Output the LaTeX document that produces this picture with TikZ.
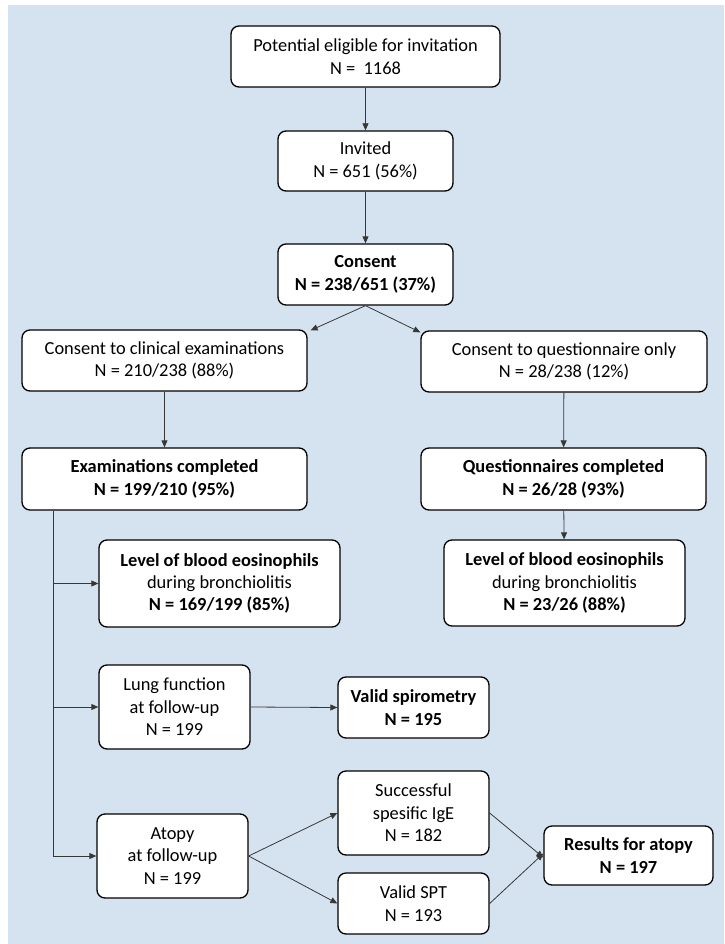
\documentclass[tikz,border=0pt]{standalone}
\usepackage{fontspec}
\setmainfont{Carlito}
\usetikzlibrary{arrows.meta}
\definecolor{bgblue}{RGB}{213,227,240}
\definecolor{linegray}{RGB}{55,55,55}
\begin{document}
\begin{tikzpicture}[x=1pt,y=-1pt,
  box/.style={draw=black, line width=1.3pt, fill=white, rounded corners=8pt,
    align=center, inner sep=0pt, font=\fontsize{18.4}{22.4}\selectfont},
  conn/.style={draw=linegray, line width=0.8pt, -{Triangle[length=7pt,width=6pt]}},
  plain/.style={draw=linegray, line width=0.8pt}
]
\useasboundingbox (0,0) rectangle (724,944);
\fill[bgblue] (8,5) rectangle (724,944);

\node[box, minimum width=269pt, minimum height=61pt] (pot) at (365.5,56.5)
  {Potential eligible for invitation\\N =\ \ 1168};
\node[box, minimum width=175pt, minimum height=60pt] (inv) at (365.5,161)
  {Invited\\N = 651 (56\%)};
\node[box, minimum width=175pt, minimum height=61pt] (cons) at (365.5,274.5)
  {\textbf{Consent}\\\textbf{N = 238/651 (37\%)}};
\node[box, minimum width=285pt, minimum height=61pt] (clin) at (164.5,360.5)
  {Consent to clinical examinations\\N = 210/238 (88\%)};
\node[box, minimum width=286pt, minimum height=61pt] (quest) at (564,361.5)
  {Consent to questionnaire only\\N = 28/238 (12\%)};
\node[box, minimum width=285pt, minimum height=62pt] (exam) at (164.5,479)
  {\textbf{Examinations completed}\\\textbf{N = 199/210 (95\%)}};
\node[box, minimum width=285pt, minimum height=62pt] (qcomp) at (563.5,479)
  {\textbf{Questionnaires completed}\\\textbf{N = 26/28 (93\%)}};
\node[box, minimum width=241pt, minimum height=87pt] (eosa) at (219.5,583.5)
  {\textbf{Level of blood eosinophils}\\during bronchiolitis\\\textbf{N = 169/199 (85\%)}};
\node[box, minimum width=241pt, minimum height=86pt] (eosb) at (564.5,583)
  {\textbf{Level of blood eosinophils}\\during bronchiolitis\\\textbf{N = 23/26 (88\%)}};
\node[box, minimum width=151pt, minimum height=84pt] (lung) at (174.5,707)
  {Lung function\\at follow-up\\N = 199};
\node[box, minimum width=151pt, minimum height=61pt] (spiro) at (413.5,707.5)
  {\textbf{Valid spirometry}\\\textbf{N = 195}};
\node[box, minimum width=151pt, minimum height=84pt] (ige) at (413.5,813)
  {Successful\\spesific IgE\\N = 182};
\node[box, minimum width=151pt, minimum height=84pt] (atopy) at (172.5,856)
  {Atopy\\at follow-up\\N = 199};
\node[box, minimum width=151pt, minimum height=61pt] (spt) at (413.5,903.5)
  {Valid SPT\\N = 193};
\node[box, minimum width=169pt, minimum height=59pt] (res) at (628.5,855.5)
  {\textbf{Results for atopy}\\\textbf{N = 197}};

\coordinate (tr) at (53,0);

\draw[conn] (pot) -- (inv);
\draw[conn] (inv) -- (cons);
\draw[conn] (cons.south) -- ([shift={(3,1)}]clin.north east);
\draw[conn] (cons.south) -- ([shift={(0,2)}]quest.north west);
\draw[conn] (clin) -- (exam);
\draw[conn] (quest) -- (qcomp);
\draw[conn] (qcomp) -- (eosb);
\draw[plain] (tr |- exam.south) -- (tr |- atopy.west);
\draw[conn] (tr |- eosa.west) -- (eosa.west);
\draw[conn] (tr |- lung.west) -- (lung.west);
\draw[conn] (tr |- atopy.west) -- (atopy.west);
\draw[conn] (lung.east) -- (spiro.west);
\draw[conn] (atopy.east) -- (ige.west);
\draw[conn] (atopy.east) -- (spt.west);
\draw[conn] (ige.east) -- ([yshift=-2pt]res.west);
\draw[conn] (spt.east) -- ([yshift=2pt]res.west);
\end{tikzpicture}
\end{document}
